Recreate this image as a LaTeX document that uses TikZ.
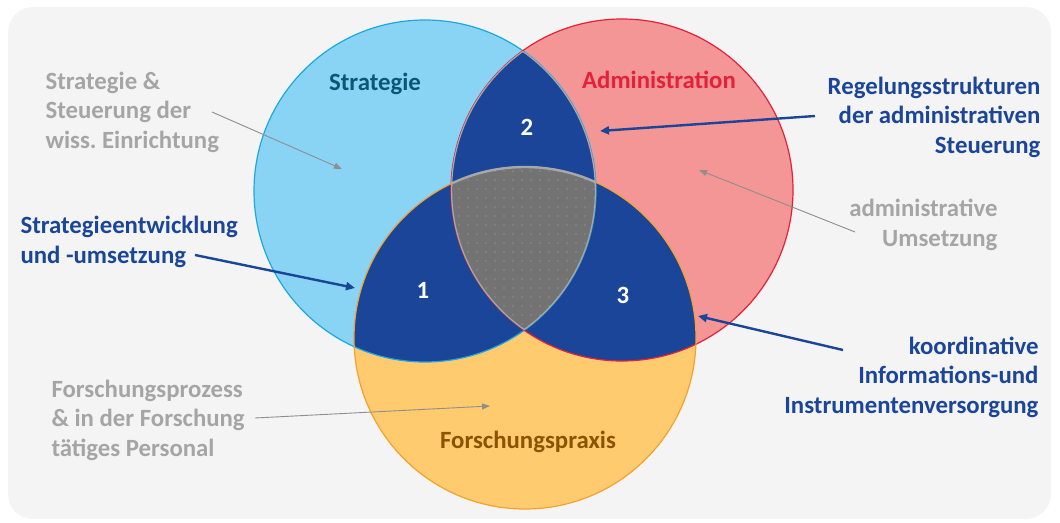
\documentclass[tikz,border=0pt]{standalone}
\usepackage{fontspec}
\setmainfont{Carlito}
\usetikzlibrary{arrows.meta,patterns.meta}
\frenchspacing

\definecolor{bgcol}{HTML}{F4F4F4}
\definecolor{stratfill}{HTML}{89D4F5}
\definecolor{stratline}{HTML}{1BA8E0}
\definecolor{adminfill}{HTML}{F49596}
\definecolor{adminline}{HTML}{E5213A}
\definecolor{praxfill}{HTML}{FFCB6E}
\definecolor{praxline}{HTML}{F4A22C}
\definecolor{overlap}{HTML}{1B4599}
\definecolor{kerngray}{HTML}{737373}
\definecolor{dotgray}{HTML}{A8A8A8}
\definecolor{textgray}{HTML}{A5A5A5}
\definecolor{arrowgray}{HTML}{8E8E8E}
\definecolor{textblue}{HTML}{1B4599}
\definecolor{stratlabel}{HTML}{0D5673}
\definecolor{praxlabel}{HTML}{8A5300}

\begin{document}
\begin{tikzpicture}[x=1pt,y=-1pt,
    every node/.style={font=\fontsize{24.8}{29.5}\selectfont\bfseries},
    R/.style={radius=171pt}]
\useasboundingbox (0,0) rectangle (1060,522);
\fill[bgcol,rounded corners=25pt] (8,7) rectangle (1051,519);

\coordinate (SC) at (425,191);
\coordinate (AC) at (622,190);
\coordinate (PC) at (525,338);

% the three circles
\fill[stratfill] (SC) circle[R];
\fill[adminfill] (AC) circle[R];
\fill[praxfill] (PC) circle[R];

% pairwise overlaps
\begin{scope}
    \clip (SC) circle[R];
    \fill[overlap] (AC) circle[R];
    \fill[overlap] (PC) circle[R];
\end{scope}
\begin{scope}
    \clip (AC) circle[R];
    \fill[overlap] (PC) circle[R];
\end{scope}

\draw[stratline,line width=1.2pt] (SC) circle[R];
\draw[adminline,line width=1.2pt] (AC) circle[R];
\draw[praxline,line width=1.2pt] (PC) circle[R];

% centre
\begin{scope}
    \clip (SC) circle[R];
    \clip (AC) circle[R];
    \fill[kerngray] (PC) circle[R];
    \fill[pattern={Dots[distance=9pt,radius=0.7pt]},pattern color=dotgray] (PC) circle[R];
    \draw[dotgray,line width=2.4pt] (SC) circle[R] (AC) circle[R] (PC) circle[R];
\end{scope}

% circle titles and numbers
\node (strat)[stratlabel] at (375,84) {Strategie};
\node (admin)[adminline] at (659,80) {Administration};
\node (prax)[praxlabel] at (528,442) {Forschungspraxis};
\begin{scope}[every node/.style={font=\fontsize{24.8}{29.5}\selectfont\bfseries,white}]
    \node (n1) at (423,290) {1};
    \node (n2) at (527,127) {2};
    \node (n3) at (623,295) {3};
\end{scope}

% outer texts
\node (stratinfo)[textgray,align=left,anchor=west] at (42,112) {Strategie \&\\Steuerung der\\wiss. Einrichtung};
\node (stratdev)[textblue,align=left,anchor=west] at (17,242) {Strategieentwicklung\\und -umsetzung};
\node (forsch)[textgray,align=left,anchor=west] at (48,420) {Forschungsprozess\\\& in der Forschung\\tätiges Personal};
\node (regel)[textblue,align=right,anchor=east] at (1044,117) {Regelungsstrukturen\\der administrativen\\Steuerung};
\node (adminfo)[textgray,align=right,anchor=east] at (1001,225) {administrative\\Umsetzung};
\node (koord)[textblue,align=right,anchor=east] at (1042,377) {koordinative\\Informations-und\\Instrumentenversorgung};

\coordinate (stratpt) at (342,169);
\coordinate (adminpt) at (699,170);
\coordinate (forschpt) at (490,406);
\coordinate (p1) at (355,288);
\coordinate (p2) at (600,131);
\coordinate (p3) at (698,316);

\begin{scope}[every edge/.style={draw=arrowgray,line width=0.9pt,-{Triangle[length=8pt,width=6pt]}}]
    \path ([xshift=170pt]stratinfo.west) edge (stratpt);
    \path ([shift={(-146,7)}]adminfo.east) edge (adminpt);
    \path ([shift={(207,-2)}]forsch.west) edge (forschpt);
\end{scope}

\begin{scope}[every edge/.style={draw=textblue,line width=2.4pt,-{Triangle[length=9pt,width=8pt]}}]
    \path ([shift={(178,13)}]stratdev.west) edge (p1);
    \path ([shift={(-229,-1)}]regel.east) edge (p2);
    \path ([shift={(-199,-27)}]koord.east) edge (p3);
\end{scope}
\end{tikzpicture}
\end{document}
